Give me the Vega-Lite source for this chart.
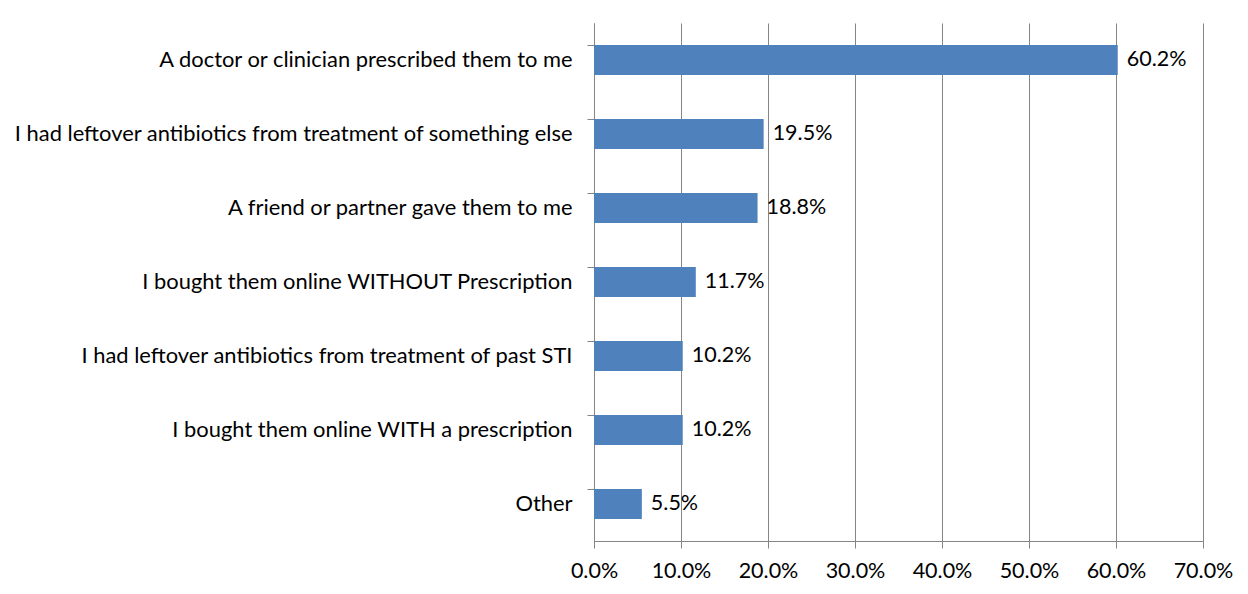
{
  "$schema": "https://vega.github.io/schema/vega-lite/v6.json",
  "autosize": "none",
  "width": 609,
  "height": 518,
  "padding": {"left": 594, "top": 23, "right": 45, "bottom": 53},
  "background": "white",
  "config": {
    "view": {"stroke": null},
    "font": "Lato"
  },
  "data": {
    "values": [
      {"source": "A doctor or clinician prescribed them to me", "share": 0.602},
      {"source": "I had leftover antibiotics from treatment of something else", "share": 0.195},
      {"source": "A friend or partner gave them to me", "share": 0.188},
      {"source": "I bought them online WITHOUT Prescription", "share": 0.117},
      {"source": "I had leftover antibiotics from treatment of past STI", "share": 0.102},
      {"source": "I bought them online WITH a prescription", "share": 0.102},
      {"source": "Other", "share": 0.055}
    ]
  },
  "encoding": {
    "y": {
      "field": "source",
      "type": "nominal",
      "sort": null,
      "scale": {"paddingInner": 0.595, "paddingOuter": 0.2975},
      "axis": {
        "title": null,
        "bandPosition": 0,
        "tickSize": 7,
        "tickColor": "#858585",
        "domainColor": "#858585",
        "labelFontSize": 21.9,
        "labelColor": "#000000",
        "labelPadding": 15,
        "labelLimit": 700,
        "labelFont": "Lato"
      }
    },
    "x": {
      "field": "share",
      "type": "quantitative",
      "scale": {"domain": [0, 0.7], "nice": false},
      "axis": {
        "title": null,
        "format": ".1%",
        "values": [0, 0.1, 0.2, 0.3, 0.4, 0.5, 0.6, 0.7],
        "grid": true,
        "gridColor": "#858585",
        "gridOpacity": 1,
        "tickSize": 7,
        "tickColor": "#858585",
        "domainColor": "#858585",
        "labelFontSize": 21.5,
        "labelColor": "#000000",
        "labelPadding": 12,
        "labelFlush": false,
        "labelFont": "Lato"
      }
    }
  },
  "layer": [
    {"mark": {"type": "bar", "color": "#4F81BD"}},
    {
      "mark": {"type": "text", "align": "left", "baseline": "middle", "dx": 9, "fontSize": 21.5, "font": "Lato", "color": "#000000"},
      "encoding": {"text": {"field": "share", "type": "quantitative", "format": ".1%"}}
    }
  ]
}
